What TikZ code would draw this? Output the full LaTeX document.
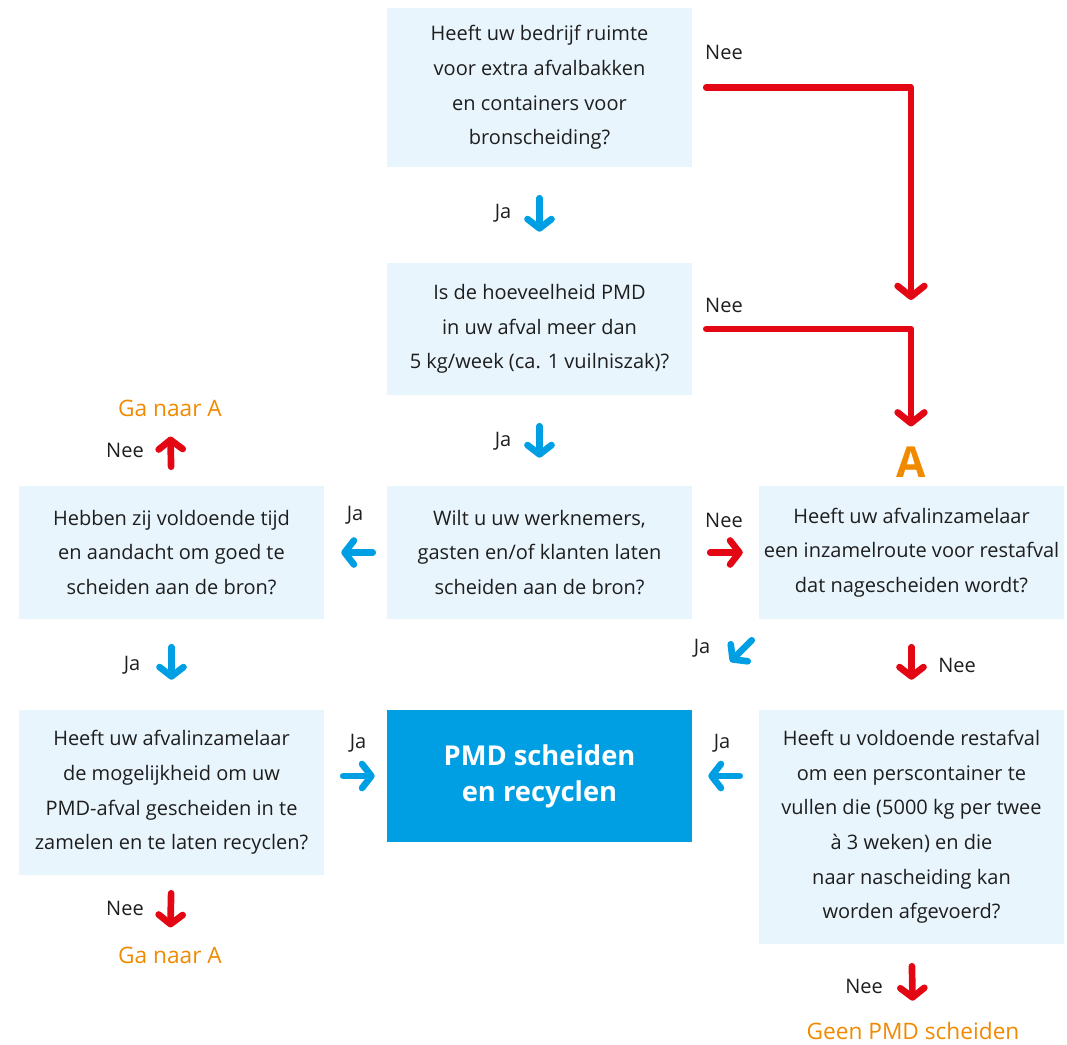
\documentclass[tikz,border=0pt]{standalone}
\usepackage{fontspec}
\setmainfont{Open Sans}
\usetikzlibrary{arrows.meta}
\definecolor{pmdlight}{RGB}{232,245,253}
\definecolor{pmdblue}{RGB}{0,159,227}
\definecolor{pmdred}{RGB}{227,6,19}
\definecolor{pmdorange}{RGB}{240,138,0}
\definecolor{pmdtext}{RGB}{30,30,30}

\begin{document}
\begin{tikzpicture}[x=0.75pt, y=-0.75pt,
    vraag/.style={fill=pmdlight, text=pmdtext, align=center, inner sep=0pt,
        minimum width=228.75pt, font=\fontsize{15}{26}\selectfont},
    antwoord/.style={text=pmdtext, inner sep=0pt, font=\fontsize{15}{17}\selectfont},
    uitkomst/.style={text=pmdorange, inner sep=0pt, font=\fontsize{17}{19}\selectfont},
    jaarrow/.style={draw=pmdblue, line width=5pt, line cap=round,
        -{Straight Barb[round, length=7pt, width=18pt]}},
    neearrow/.style={jaarrow, draw=pmdred},
    route/.style={draw=pmdred, line width=5pt, line cap=round, line join=round,
        -{Straight Barb[round, length=8pt, width=20pt]}}]
    % Canvas
    \useasboundingbox (0,0) rectangle (1067,1045);

    % Question boxes
    \node[vraag, minimum height=119.25pt] (q1) at (539.5,87.5)
        {Heeft uw bedrijf ruimte\\voor extra afvalbakken\\en containers voor\\bronscheiding?};
    \node[vraag, minimum height=99pt] (q2) at (539.5,329)
        {Is de hoeveelheid PMD\\in uw afval meer dan\\5 kg/week (ca. 1 vuilniszak)?};
    \node[vraag, minimum height=99.75pt] (q3) at (539.5,552.5)
        {Wilt u uw werknemers,\\gasten en/of klanten laten\\scheiden aan de bron?};
    \node[vraag, minimum height=99.75pt] (q4) at (171.5,552.5)
        {Hebben zij voldoende tijd\\en aandacht om goed te\\scheiden aan de bron?};
    \node[vraag, minimum height=99.75pt] (q5) at (911.5,552.5)
        {Heeft uw afvalinzamelaar\\een inzamelroute voor restafval\\dat nagescheiden wordt?};
    \node[vraag, minimum height=123.75pt] (q6) at (171.5,792.5)
        {Heeft uw afvalinzamelaar\\de mogelijkheid om uw\\PMD-afval gescheiden in te\\zamelen en te laten recyclen?};
    \node[vraag, minimum height=175.5pt] (q7) at (911.5,827)
        {Heeft u voldoende restafval\\om een perscontainer te\\vullen die (5000 kg per twee\\à 3 weken) en die\\naar nascheiding kan\\worden afgevoerd?};

    % Result box
    \node[fill=pmdblue, text=white, align=center, minimum width=228.75pt, minimum height=99pt,
        font=\fontsize{20.5}{27}\selectfont\bfseries] (pmd) at (539.5,776) {PMD scheiden\\en recyclen};

    % Outcomes
    \node[uitkomst] (gaA1) at (170,408) {Ga naar A};
    \node[uitkomst] (gaA2) at (170,955) {Ga naar A};
    \node[uitkomst] (geen) at (913,1031) {Geen PMD scheiden};
    \node[text=pmdorange, inner sep=0pt, font=\fontsize{32}{32}\selectfont\bfseries] (A) at (911,462) {A};
    \coordinate (knik) at (911,300);

    % Ja arrows
    \draw[jaarrow, shorten <=23.25pt, shorten >=23.25pt] (q1.south) -- (q2.north);
    \draw[jaarrow, shorten <=23.25pt, shorten >=21pt] (q2.south) -- (q3.north);
    \draw[jaarrow, shorten <=10.5pt, shorten >=12.75pt] (q3.west) -- (q4.east);
    \draw[jaarrow, shorten <=21pt, shorten >=22.5pt] (q4.south) -- (q6.north);
    \draw[jaarrow, shorten <=14.25pt, shorten >=9pt] (q6.east |- pmd.west) -- (pmd.west);
    \draw[jaarrow, shorten <=14.25pt, shorten >=12pt] (q7.west |- pmd.east) -- (pmd.east);
    \draw[jaarrow] ([shift={(-7,21)}]q5.south west) -- ([shift={(38,-48)}]pmd.north east);

    % Nee arrows
    \draw[neearrow, shorten <=13.5pt, shorten >=12pt] (q3.east) -- (q5.west);
    \draw[neearrow, shorten <=21pt, shorten >=22.5pt] (q5.south) -- (q7.north);
    \draw[neearrow, shorten <=14.25pt, shorten >=15pt] (q4.north) -- (gaA1.south);
    \draw[neearrow, shorten <=13.5pt, shorten >=14.25pt] (q6.south) -- (gaA2.north);
    \draw[neearrow, shorten <=16.5pt, shorten >=16pt] (q7.south) -- (geen.north);

    % Routes to A
    \draw[route, shorten <=10.5pt] (q1.east) -| (knik);
    \draw[route, shorten <=10.5pt, shorten >=15pt] (q2.east) -| (A.north);

    % Answer labels
    \node[antwoord] (nee1) at (724,52) {Nee};
    \node[antwoord] (nee2) at (724,305) {Nee};
    \node[antwoord] (ja1) at (503,213) {Ja};
    \node[antwoord] (ja2) at (503,441) {Ja};
    \node[antwoord] (ja3) at (355,515) {Ja};
    \node[antwoord] (nee3) at (724,520) {Nee};
    \node[antwoord] (nee4) at (125,450) {Nee};
    \node[antwoord] (ja4) at (132,665) {Ja};
    \node[antwoord] (ja5) at (702,648) {Ja};
    \node[antwoord] (nee5) at (957,665) {Nee};
    \node[antwoord] (ja6) at (358,743) {Ja};
    \node[antwoord] (ja7) at (722,743) {Ja};
    \node[antwoord] (nee6) at (125,908) {Nee};
    \node[antwoord] (nee7) at (864,986) {Nee};
\end{tikzpicture}
\end{document}
